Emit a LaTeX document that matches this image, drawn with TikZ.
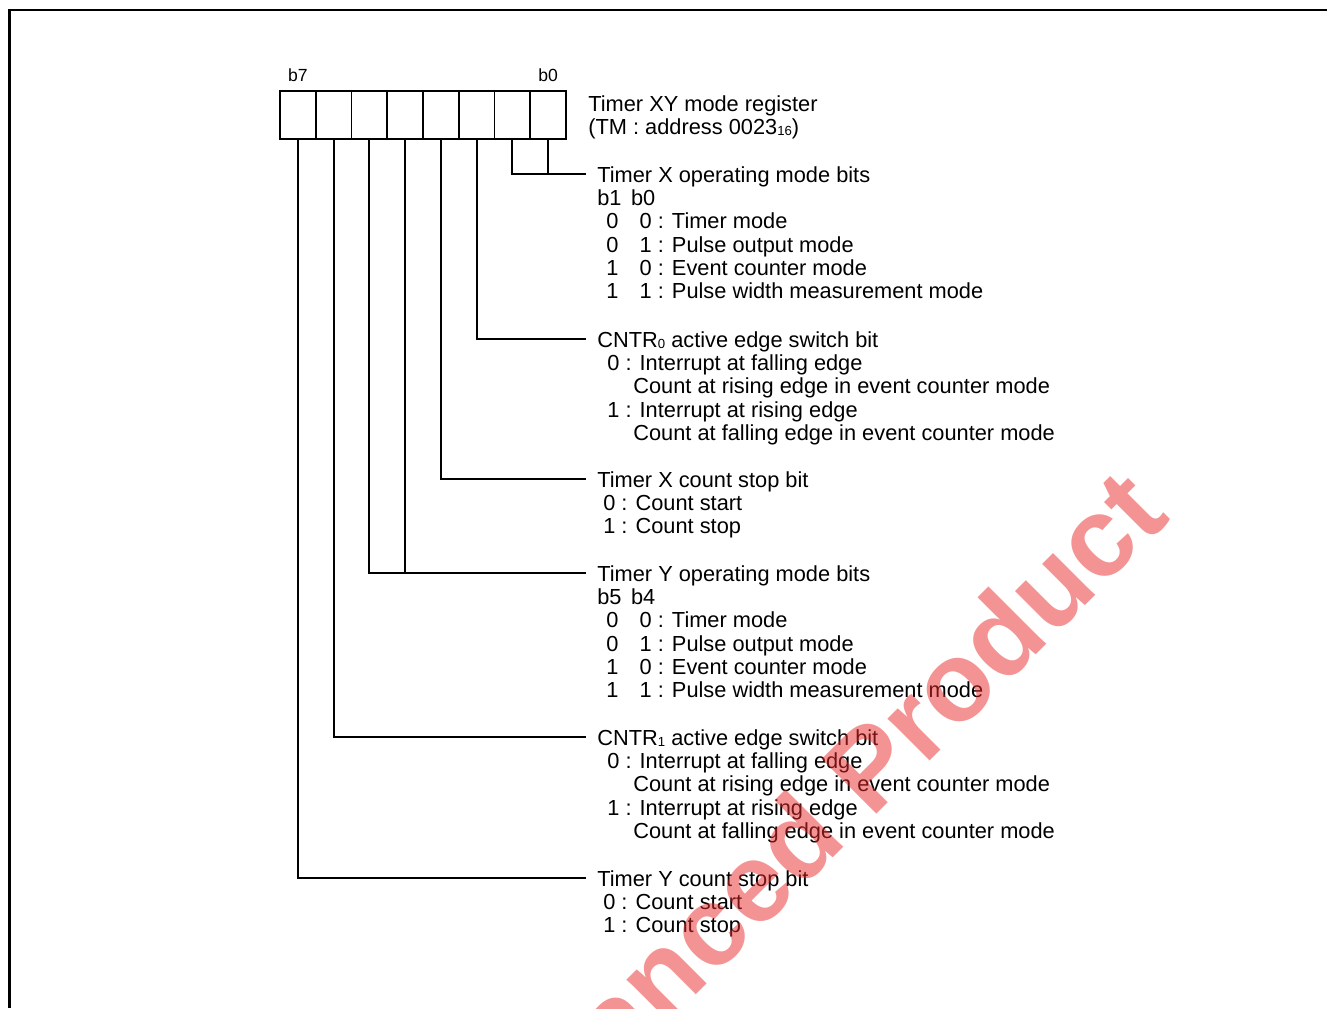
\documentclass[tikz,border=0pt]{standalone}
\usepackage{fontspec}
\setmainfont{Liberation Sans}
\usetikzlibrary{positioning}

\definecolor{wmred}{RGB}{232,40,40}

\tikzset{
    bitcell/.style={draw, line width=1.1pt, minimum width=0.715cm, minimum height=0.96cm, inner sep=0pt, outer sep=0pt},
    wire/.style={line width=1.1pt},
    desc/.style={anchor=base west, inner xsep=6.26pt, inner ysep=0pt, font=\fontsize{12.4}{13.2}\selectfont},
    bitlbl/.style={inner sep=0pt, font=\fontsize{10}{12}\selectfont},
    wmark/.style={rotate=45, text=wmred, text opacity=0.5, inner sep=0pt, font=\fontsize{64}{64}\selectfont\bfseries},
}
\newcommand{\lowidx}[1]{\raisebox{-0.8pt}{\fontsize{7.5}{8}\selectfont #1}}
\newcommand{\moderow}[3]{\hspace*{5.1pt}\makebox[19pt][l]{#1}#2 : #3}
\newcommand{\edgerow}[2]{\hspace*{5.7pt}#1 : #2}
\newcommand{\controw}[1]{\hspace*{20.5pt}#1}
\newcommand{\stoprow}[2]{\hspace*{3.4pt}#1 : #2}

\begin{document}
\begin{tikzpicture}[x=0.02cm, y=-0.02cm]
        \useasboundingbox (0,0) rectangle (1327,1008);
        \draw[line width=1.7pt] (1327,10) -- (9.5,10) -- (9.5,1008);
        % The register, b7 on the left.
            \foreach \i in {0,...,7}
                \node[bitcell] (c\i) at ({297.875+35.75*(7-\i)},115) {};
            \node[bitlbl, above=5pt of c7] (lb7) {b7};
            \node[bitlbl, above=5pt of c0] (lb0) {b0};
            \node[anchor=base west, inner sep=0pt, font=\fontsize{12.4}{13.2}\selectfont] (tmreg) at (588,111)
                {\begin{tabular}[t]{@{}l@{}}
                 Timer XY mode register\\
                 (TM : address 0023\lowidx{16})
                 \end{tabular}};
        % Below nodes are the bit descriptions.
            \node[desc] (xmode) at (586,182.5)
                {\begin{tabular}[t]{@{}l@{}}
                 Timer X operating mode bits\\
                 \makebox[19.2pt][l]{b1}b0\\
                 \moderow{0}{0}{Timer mode}\\
                 \moderow{0}{1}{Pulse output mode}\\
                 \moderow{1}{0}{Event counter mode}\\
                 \moderow{1}{1}{Pulse width measurement mode}
                 \end{tabular}};
            \node[desc] (cntr0) at (586,347.5)
                {\begin{tabular}[t]{@{}l@{}}
                 CNTR\lowidx{0} active edge switch bit\\
                 \edgerow{0}{Interrupt at falling edge}\\
                 \controw{Count at rising edge in event counter mode}\\
                 \edgerow{1}{Interrupt at rising edge}\\
                 \controw{Count at falling edge in event counter mode}
                 \end{tabular}};
            \node[desc] (xstop) at (586,487.5)
                {\begin{tabular}[t]{@{}l@{}}
                 Timer X count stop bit\\
                 \stoprow{0}{Count start}\\
                 \stoprow{1}{Count stop}
                 \end{tabular}};
            \node[desc] (ymode) at (586,581.5)
                {\begin{tabular}[t]{@{}l@{}}
                 Timer Y operating mode bits\\
                 \makebox[19.2pt][l]{b5}b4\\
                 \moderow{0}{0}{Timer mode}\\
                 \moderow{0}{1}{Pulse output mode}\\
                 \moderow{1}{0}{Event counter mode}\\
                 \moderow{1}{1}{Pulse width measurement mode}
                 \end{tabular}};
            \node[desc] (cntr1) at (586,745.5)
                {\begin{tabular}[t]{@{}l@{}}
                 CNTR\lowidx{1} active edge switch bit\\
                 \edgerow{0}{Interrupt at falling edge}\\
                 \controw{Count at rising edge in event counter mode}\\
                 \edgerow{1}{Interrupt at rising edge}\\
                 \controw{Count at falling edge in event counter mode}
                 \end{tabular}};
            \node[desc] (ystop) at (586,886.5)
                {\begin{tabular}[t]{@{}l@{}}
                 Timer Y count stop bit\\
                 \stoprow{0}{Count start}\\
                 \stoprow{1}{Count stop}
                 \end{tabular}};
        % Leader ends, at the middle of each first line.
            \foreach \d in {xmode,cntr0,xstop,ymode,cntr1,ystop}
                \coordinate (\d-in) at ([yshift=4.8pt]\d.base west);
        % Leader lines from the bits.
            \draw[wire] (c1.south) |- (xmode-in);
            \draw[wire] (c0.south) -- (c0.south |- xmode-in);
            \draw[wire] (c2.south) |- (cntr0-in);
            \draw[wire] (c3.south) |- (xstop-in);
            \draw[wire] (c5.south) |- (ymode-in);
            \draw[wire] (c4.south) -- (c4.south |- ymode-in);
            \draw[wire] (c6.south) |- (cntr1-in);
            \draw[wire] (c7.south) |- (ystop-in);
        % Watermark over everything.
            \begin{scope}
                \clip (0,0) rectangle (1327,1008);
                \node[wmark] (wm) at (792,842) {Advanced Product};
            \end{scope}
    \end{tikzpicture}
\end{document}
